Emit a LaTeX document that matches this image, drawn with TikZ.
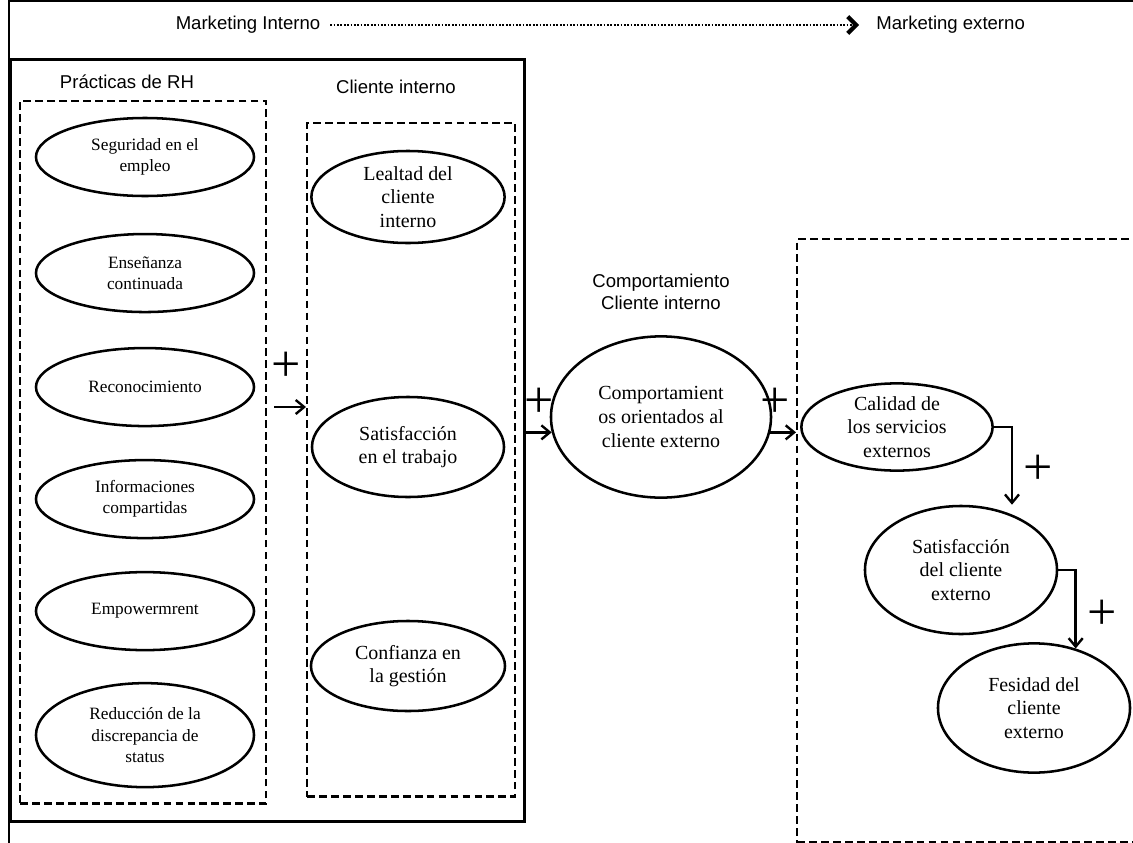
\documentclass[tikz,border=0pt]{standalone}
\usepackage{fontspec}
\usepackage{tikz}
\usetikzlibrary{arrows.meta, positioning}
\usetikzlibrary{shapes, calc}
\setmainfont{Liberation Serif}
\newfontfamily\labelfont{Liberation Sans}

\begin{document}
\begin{tikzpicture}[
    x=0.025cm, y=-0.025cm,
    >={Straight Barb[length=6pt, width=10pt]},
    elip/.style={ellipse, draw, line width=1.8pt, inner xsep=0pt, inner ysep=-1pt, align=center},
    rhs/.style={elip, minimum width=5.45cm, minimum height=1.95cm, font=\fontsize{12.3}{15}\selectfont},
    cis/.style={elip, font=\fontsize{14.2}{16.8}\selectfont},
    lbl/.style={inner sep=0pt, align=center, font=\labelfont\fontsize{13.2}{15.6}\selectfont},
    dbox/.style={draw, dash pattern=on 5.5pt off 3pt, line width=1.7pt, inner sep=0pt},
    arr/.style={->, line width=1.7pt},
    pls/.style={inner sep=0pt, font=\fontsize{37}{37}\selectfont}
]
\useasboundingbox (0,0) rectangle (1133,843);
\clip (0,0) rectangle (1133,843);

% Frame
\draw[line width=1.1pt] (1133,1) -| (9,843);

% Header
\node[lbl] (mint) at (248,25) {Marketing Interno};
\node[lbl, anchor=west] (mext) at (876,25) {Marketing externo};
\draw[line width=0.8pt, dash pattern=on 1.2pt off 1.2pt,
      -{Straight Barb[length=6pt, width=12pt, line width=3pt]},
      shorten <=7pt, shorten >=12pt] (mint) -- (mext);

% Boxes
\node[draw, line width=2.3pt, inner sep=0pt, anchor=north west,
      minimum width=12.85cm, minimum height=19.05cm] (mib) at (9,58) {};
\node[dbox, anchor=north west, minimum width=6.15cm, minimum height=17.55cm] (rh) at (19,100) {};
\node[dbox, anchor=north west, minimum width=5.2cm, minimum height=16.83cm] (ci) at (306,122) {};
\node[dbox, anchor=north west, minimum width=8.7cm, minimum height=15.08cm] (ext) at (796,238) {};

% Group titles
\node[lbl] (trh) at (127,82) {Prácticas de RH};
\node[lbl] (tci) at (396,87) {Cliente interno};
\node[lbl] (tcomp) at (661,292) {Comportamiento\\Cliente interno};

% Practicas de RH
\node[rhs] (seg) at (145,157) {Seguridad en el\\empleo};
\node[rhs, below of=seg, node distance=2.9cm] (ens) {Enseñanza\\continuada};
\node[rhs, below of=ens, node distance=2.85cm] (rec) {Reconocimiento};
\node[rhs, below of=rec, node distance=2.8cm] (inf) {Informaciones\\compartidas};
\node[rhs, below of=inf, node distance=2.8cm] (emp) {Empowermrent};
\node[rhs, below of=emp, node distance=3.1cm, minimum height=2.6cm] (red) {Reducción de la\\discrepancia de\\status};

% Cliente interno
\node[cis, minimum width=4.83cm, minimum height=2.3cm] (leal) at (408,197) {Lealtad del\\cliente\\interno};
\node[cis, minimum width=4.8cm, minimum height=2.5cm] (satt) at (408,447) {Satisfacción\\en el trabajo};
\node[cis, minimum width=4.85cm, minimum height=2.25cm] (conf) at (408,666) {Confianza en\\la gestión};

% Comportamiento
\node[cis, minimum width=5.5cm, minimum height=4.03cm] (comp) at (661,417) {Comportamient\\os orientados al\\cliente externo};

% Cliente externo
\node[cis, minimum width=4.78cm, minimum height=2.18cm, inner ysep=-2pt] (cal) at (897,427) {Calidad de\\los servicios\\externos};
\node[cis, minimum width=4.8cm, minimum height=3.2cm] (satx) at (961,570) {Satisfacción\\del cliente\\externo};
\node[cis, minimum width=4.8cm, minimum height=3.23cm] (fes) at (1034,708) {Fesidad del\\cliente\\externo};

% Arrows
\coordinate (a1) at (274,407);
\draw[arr] (a1) -- (a1 -| ci.west);
\draw[arr] (comp.188 -| mib.east) -- (comp.188);
\draw[arr] (comp.-8) -- (comp.-8 -| ext.west);
\draw[arr] (cal.east) -| ($(satx.north)+(51,0)$);
\draw[arr] (satx.east) -| (fes.55);

% Signs
\node[pls] (p1) at (286,367) {+};
\node[pls] (p2) at (539,403) {+};
\node[pls] (p3) at (775,403) {+};
\node[pls] (p4) at (1038,470) {+};
\node[pls] (p5) at (1102,615) {+};

\end{tikzpicture}
\end{document}
